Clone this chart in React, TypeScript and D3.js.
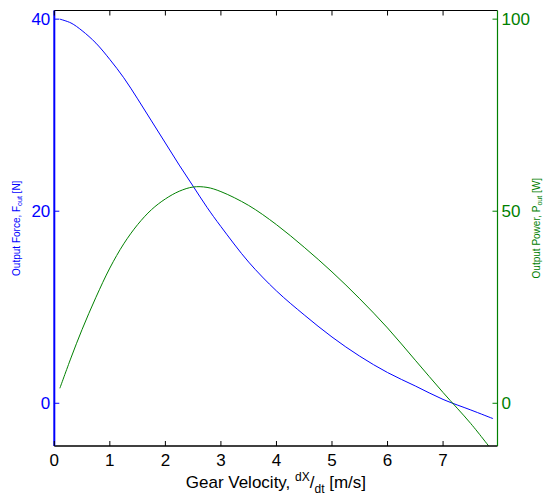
import React from 'react';
import * as d3 from 'd3';

const velocity = [0.1, 0.3, 0.5, 0.75, 1.0, 1.25, 1.5, 1.75, 2.0, 2.25, 2.5, 2.75, 3.0, 3.5, 4.0, 4.5, 5.0, 5.5, 6.0, 6.5, 7.0, 7.5, 7.9];
const force = [40.0, 39.6, 38.8, 37.5, 35.8, 33.9, 31.7, 29.4, 27.1, 24.8, 22.6, 20.4, 18.4, 14.7, 11.7, 9.2, 6.9, 4.9, 3.2, 1.8, 0.4, -0.7, -1.6];
const power = [3.9, 11.8, 19.2, 27.6, 35.2, 41.5, 46.5, 50.4, 53.2, 55.2, 56.3, 56.2, 55.1, 51.5, 46.5, 40.6, 34.2, 27.2, 19.6, 11.2, 2.8, -5.3, -12.6];

const xTicks = [0, 1, 2, 3, 4, 5, 6, 7];
const forceTicks = [0, 20, 40];
const powerTicks = [0, 50, 100];

const BLUE = '#0000ff';
const GREEN = '#008000';
const FONT = '"Liberation Sans", Arial, sans-serif';

export default function App() {
  const left = 54.3, right = 497.5, top = 10.5, bottom = 446;
  const x = d3.scaleLinear().domain([0, 7.98]).range([left, right]);
  const yF = d3.scaleLinear().domain([-4.45, 40.9]).range([bottom, top]);
  const yP = d3.scaleLinear().domain([-11.125, 102.25]).range([bottom, top]);

  const idx = velocity.map((_, i) => i);
  const forceLine = d3.line<number>().x(i => x(velocity[i])).y(i => yF(force[i])).curve(d3.curveCatmullRom.alpha(0.5));
  const powerLine = d3.line<number>().x(i => x(velocity[i])).y(i => yP(power[i])).curve(d3.curveCatmullRom.alpha(0.5));
  const cy = (top + bottom) / 2;
  const cx = (left + right) / 2;

  return (
    <svg width={543} height={495} style={{ position: 'absolute', left: 0, top: 0, background: '#fff' }} fontFamily={FONT}>
      <defs>
        <clipPath id="plotclip">
          <rect x={left} y={top} width={right - left} height={bottom - top} />
        </clipPath>
      </defs>
      <rect x={0} y={0} width={543} height={495} fill="#fff" />
      <g clipPath="url(#plotclip)" fill="none" strokeWidth={1}>
        <path d={forceLine(idx) || ''} stroke={BLUE} />
        <path d={powerLine(idx) || ''} stroke={GREEN} />
      </g>
      <line x1={left} x2={right} y1={top} y2={top} stroke="#000" strokeWidth={1.2} />
      <line x1={left} x2={right} y1={bottom} y2={bottom} stroke="#000" strokeWidth={1.5} />
      <line x1={right} x2={right} y1={top} y2={bottom} stroke={GREEN} strokeWidth={1.2} />
      <line x1={left} x2={left} y1={top} y2={bottom} stroke={BLUE} strokeWidth={2} />
      {xTicks.map(t => (
        <g key={'x' + t}>
          <line x1={x(t)} x2={x(t)} y1={bottom} y2={bottom - 5} stroke="#000" strokeWidth={1} />
          <line x1={x(t)} x2={x(t)} y1={top} y2={top + 5} stroke="#000" strokeWidth={1} />
          <text x={x(t)} y={466} textAnchor="middle" fontSize={17} fill="#000">{t}</text>
        </g>
      ))}
      {forceTicks.map(t => (
        <g key={'f' + t}>
          <line x1={left} x2={left + 5} y1={yF(t)} y2={yF(t)} stroke={BLUE} strokeWidth={1} />
          <text x={left - 4} y={yF(t)} textAnchor="end" dominantBaseline="central" fontSize={17} fill={BLUE}>{t}</text>
        </g>
      ))}
      {powerTicks.map(t => (
        <g key={'p' + t}>
          <line x1={right} x2={right - 5} y1={yP(t)} y2={yP(t)} stroke={GREEN} strokeWidth={1} />
          <text x={right + 4} y={yP(t)} textAnchor="start" dominantBaseline="central" fontSize={17} fill={GREEN}>{t}</text>
        </g>
      ))}
      <text x={cx} y={488} textAnchor="middle" fontSize={17} fill="#000">
        <tspan>Gear Velocity, </tspan>
        <tspan fontSize={12} dy={-7}>dX</tspan>
        <tspan fontSize={17} dy={7}>/</tspan>
        <tspan fontSize={12} dy={5}>dt</tspan>
        <tspan fontSize={17} dy={-5}> [m/s]</tspan>
      </text>
      <text transform={`translate(20,${cy}) rotate(-90)`} textAnchor="middle" fontSize={10} fill={BLUE}>
        <tspan>Output Force, F</tspan>
        <tspan fontSize={7} dy={2}>out</tspan>
        <tspan fontSize={10} dy={-2}> [N]</tspan>
      </text>
      <text transform={`translate(540,${cy}) rotate(-90)`} textAnchor="middle" fontSize={10} fill={GREEN}>
        <tspan>Output Power, P</tspan>
        <tspan fontSize={7} dy={2}>out</tspan>
        <tspan fontSize={10} dy={-2}> [W]</tspan>
      </text>
    </svg>
  );
}
